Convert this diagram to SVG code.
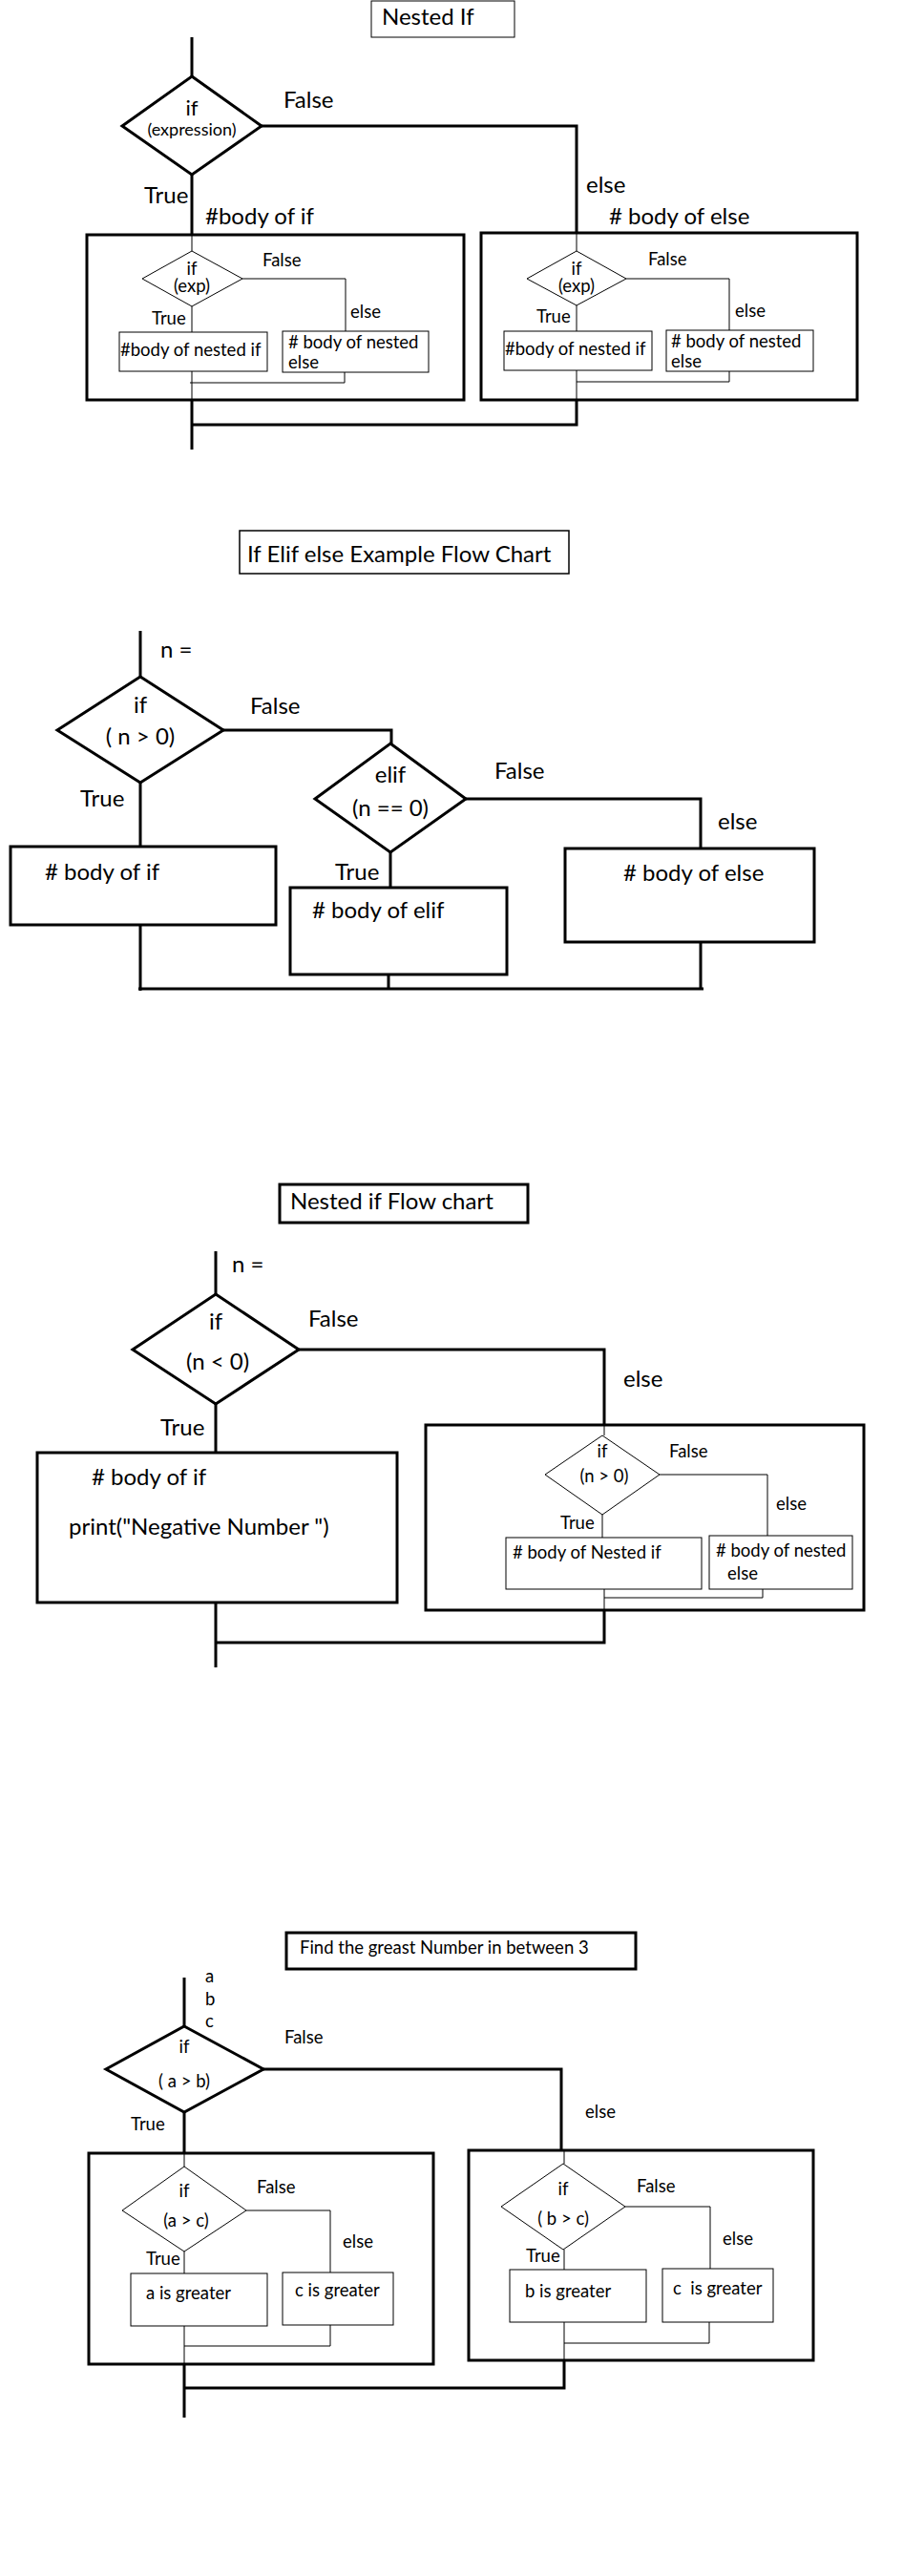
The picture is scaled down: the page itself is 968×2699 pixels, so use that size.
<svg xmlns="http://www.w3.org/2000/svg" width="968" height="2699" viewBox="0 0 968 2699">
<style>
text{font-family:Lato,"Liberation Sans",sans-serif;fill:#000}
.L{font-size:24px}
.S{font-size:18.5px}
.M{text-anchor:middle}
.k{fill:none;stroke:#000;stroke-width:3}
.n{fill:none;stroke:#000;stroke-width:1}
.bx{fill:#fff;stroke:#000;stroke-width:3}
.bn{fill:#fff;stroke:#000;stroke-width:1}
</style>
<rect width="968" height="2699" fill="#fff"/>

<!-- ============ Section 1: Nested If ============ -->
<g id="s1-connectors">
<path class="k" d="M201 39V80M274 132H604V244M201 183V246M201 419V471M201 445H604V419"/>
<path class="n" d="M201 246V263M201 321V348M254 292H362V347M201 389V419M199 401H361V390"/>
<path class="n" d="M604 244V263M604 320V347M656 292H764V346M604 388V419M604 400H764V389"/>
</g>
<g id="s1-title"><rect x="389" y="1" width="150" height="38" class="bn"/><text x="400" y="26" class="L">Nested If</text></g>
<g id="s1-if"><path class="k" d="M201 80L274 132L201 183L128 132Z" fill="#fff"/><text x="201" y="121" class="M" font-size="22">if</text><text x="201" y="142" class="M" font-size="18">(expression)</text></g>
<text x="297" y="113" class="L">False</text>
<text x="614" y="202" class="L">else</text>
<text x="151" y="213" class="L">True</text>
<text x="215" y="235" class="L">#body of if</text>
<text x="638" y="235" class="L"># body of else</text>
<g id="s1-body-if">
<rect x="91" y="246" width="395" height="173" class="k"/>
<g id="s1-if-inner"><path class="n" d="M201 263L254 292L201 321L149 292Z"/><text x="201" y="288" class="S M">if</text><text x="201" y="306" class="S M">(exp)</text></g>
<text x="275" y="279" class="S">False</text>
<text x="367" y="333" class="S">else</text>
<text x="159" y="340" class="S">True</text>
<g id="s1-nested-if"><rect x="125" y="348" width="155" height="41" class="bn"/><text x="126" y="373" class="S">#body of nested if</text></g>
<g id="s1-nested-else"><rect x="296" y="347" width="153" height="43" class="bn"/><text x="302" y="365" class="S"># body of nested</text><text x="302" y="386" class="S">else</text></g>
</g>
<g id="s1-body-else">
<rect x="504" y="244" width="394" height="175" class="k"/>
<g id="s1-else-inner"><path class="n" d="M604 263L656 292L604 320L552 292Z"/><text x="604" y="288" class="S M">if</text><text x="604" y="306" class="S M">(exp)</text></g>
<text x="679" y="278" class="S">False</text>
<text x="770" y="332" class="S">else</text>
<text x="562" y="338" class="S">True</text>
<g id="s1-else-nested-if"><rect x="528" y="347" width="155" height="41" class="bn"/><text x="529" y="372" class="S">#body of nested if</text></g>
<g id="s1-else-nested-else"><rect x="698" y="346" width="154" height="43" class="bn"/><text x="703" y="364" class="S"># body of nested</text><text x="703" y="385" class="S">else</text></g>
</g>

<!-- ============ Section 2: If Elif else ============ -->
<g id="s2-connectors">
<path class="k" d="M147 661V709M234 765H410V779M147 820V887M147 969V1038M488 837H734V889M409 893V930M407 1021V1036M734 987V1036M145 1036H737"/>
</g>
<g id="s2-title"><rect x="251" y="556" width="345" height="45" fill="#fff" stroke="#000" stroke-width="1.5"/><text x="259" y="589" class="L">If Elif else Example Flow Chart</text></g>
<text x="168" y="689" class="L">n =</text>
<g id="s2-if"><path class="k" d="M147 709L234 765L147 820L60 765Z"/><text x="147" y="747" class="L M">if</text><text x="147" y="780" class="L M">( n &gt; 0)</text></g>
<text x="262" y="748" class="L">False</text>
<text x="84" y="845" class="L">True</text>
<g id="s2-body-if"><rect x="11" y="887" width="278" height="82" class="bx"/><text x="47" y="922" class="L"># body of if</text></g>
<g id="s2-elif"><path class="k" d="M409 779L488 837L409 893L330 837Z"/><text x="409" y="820" class="L M">elif</text><text x="409" y="855" class="L M">(n == 0)</text></g>
<text x="518" y="816" class="L">False</text>
<text x="351" y="922" class="L">True</text>
<g id="s2-body-elif"><rect x="304" y="930" width="227" height="91" class="bx"/><text x="327" y="962" class="L"># body of elif</text></g>
<text x="752" y="869" class="L">else</text>
<g id="s2-body-else"><rect x="592" y="889" width="261" height="98" class="bx"/><text x="653" y="923" class="L"># body of else</text></g>

<!-- ============ Section 3: Nested if Flow chart ============ -->
<g id="s3-connectors">
<path class="k" d="M226 1311V1356M313 1414H633V1493M226 1471V1522M226 1679V1747M226 1721H633V1687"/>
<path class="n" d="M633 1493V1504M631 1587V1611M691 1545H804V1609M633 1665V1687M633 1674H799V1665"/>
</g>
<g id="s3-title"><rect x="293" y="1241" width="260" height="40" class="bx"/><text x="304" y="1267" class="L">Nested if Flow chart</text></g>
<text x="243" y="1333" class="L">n =</text>
<g id="s3-if"><path class="k" d="M226 1356L313 1414L226 1471L139 1414Z"/><text x="226" y="1393" class="L M">if</text><text x="228" y="1435" class="L M">(n &lt; 0)</text></g>
<text x="323" y="1390" class="L">False</text>
<text x="168" y="1504" class="L">True</text>
<g id="s3-body-if"><rect x="39" y="1522" width="377" height="157" class="bx"/><text x="96" y="1556" class="L"># body of if</text><text x="72" y="1608" class="L">print("Negative Number ")</text></g>
<text x="653" y="1453" class="L">else</text>
<g id="s3-body-else">
<rect x="446" y="1493" width="459" height="194" class="k"/>
<g id="s3-if-inner"><path class="n" d="M631 1504L691 1545L631 1587L571 1545Z"/><text x="631" y="1527" class="S M">if</text><text x="633" y="1553" class="S M">(n &gt; 0)</text></g>
<text x="701" y="1527" class="S">False</text>
<text x="813" y="1582" class="S">else</text>
<text x="587" y="1602" class="S">True</text>
<g id="s3-nested-if"><rect x="530" y="1611" width="205" height="54" class="bn"/><text x="537" y="1633" class="S"># body of Nested if</text></g>
<g id="s3-nested-else"><rect x="743" y="1609" width="150" height="56" class="bn"/><text x="750" y="1631" class="S"># body of nested</text><text x="762" y="1655" class="S">else</text></g>
</g>

<!-- ============ Section 4: Greatest of 3 ============ -->
<g id="s4-connectors">
<path class="k" d="M193 2072V2123M276 2168H588V2253M193 2213V2256M193 2477V2533M193 2502H591V2473"/>
<path class="n" d="M193 2256V2270M193 2359V2382M258 2316H346V2381M193 2437V2477M193 2458H346V2436"/>
<path class="n" d="M591 2253V2267M591 2357V2378M655 2312H744V2377M591 2433V2473M591 2455H743V2433"/>
</g>
<g id="s4-title"><rect x="300" y="2025" width="366" height="38" class="bx"/><text x="314" y="2047" class="S">Find the greast Number in between 3</text></g>
<text x="215" y="2077" class="S">a</text>
<text x="215" y="2101" class="S">b</text>
<text x="215" y="2124" class="S">c</text>
<g id="s4-if"><path class="k" d="M193 2123L276 2168L193 2213L111 2168Z"/><text x="193" y="2151" class="S M">if</text><text x="193" y="2187" class="S M">( a &gt; b)</text></g>
<text x="298" y="2141" class="S">False</text>
<text x="137" y="2232" class="S">True</text>
<text x="613" y="2219" class="S">else</text>
<g id="s4-body-if">
<rect x="93" y="2256" width="361" height="221" class="k"/>
<g id="s4-if-ac"><path class="n" d="M193 2270L258 2316L193 2359L128 2316Z"/><text x="193" y="2302" class="S M">if</text><text x="195" y="2333" class="S M">(a &gt; c)</text></g>
<text x="269" y="2298" class="S">False</text>
<text x="359" y="2355" class="S">else</text>
<text x="153" y="2373" class="S">True</text>
<g id="s4-a-greater"><rect x="137" y="2382" width="143" height="55" class="bn"/><text x="153" y="2409" class="S">a is greater</text></g>
<g id="s4-c-greater-1"><rect x="296" y="2381" width="116" height="55" class="bn"/><text x="309" y="2406" class="S">c is greater</text></g>
</g>
<g id="s4-body-else">
<rect x="491" y="2253" width="361" height="220" class="k"/>
<g id="s4-if-bc"><path class="n" d="M590 2267L655 2312L590 2357L525 2312Z"/><text x="590" y="2300" class="S M">if</text><text x="590" y="2331" class="S M">( b &gt; c)</text></g>
<text x="667" y="2297" class="S">False</text>
<text x="757" y="2352" class="S">else</text>
<text x="551" y="2370" class="S">True</text>
<g id="s4-b-greater"><rect x="534" y="2378" width="143" height="55" class="bn"/><text x="550" y="2407" class="S">b is greater</text></g>
<g id="s4-c-greater-2"><rect x="694" y="2377" width="116" height="56" class="bn"/><text x="705" y="2404" class="S" xml:space="preserve">c  is greater</text></g>
</g>
</svg>
